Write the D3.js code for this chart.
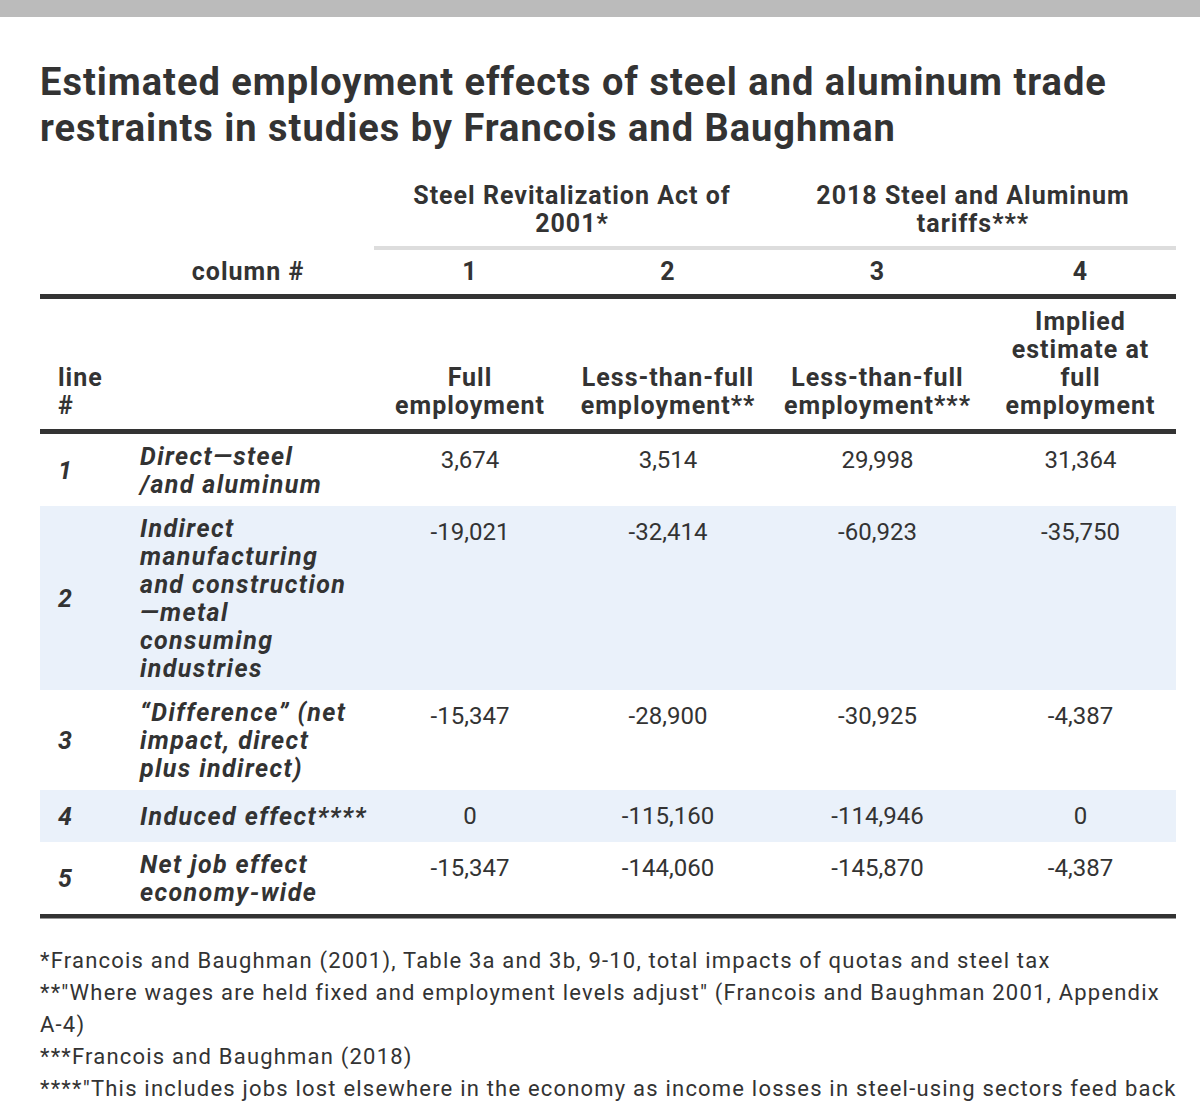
<!DOCTYPE html>
<html><head><meta charset="utf-8">
<script src="https://cdn.jsdelivr.net/npm/d3@7"></script>
<style>
html,body{margin:0;padding:0;background:#fff;}
svg{display:block;}
</style></head><body>
<svg id="chart" width="1200" height="1108"></svg>
<script>
// ---- data ----
const titleLines = ["Estimated employment effects of steel and aluminum trade",
                    "restraints in studies by Francois and Baughman"];
const groupHeaders = [["Steel Revitalization Act of", "2001*"],
                      ["2018 Steel and Aluminum", "tariffs***"]];
const columnNumbers = ["1", "2", "3", "4"];
const columnHeaders = [["Full", "employment"],
                       ["Less-than-full", "employment**"],
                       ["Less-than-full", "employment***"],
                       ["Implied", "estimate at", "full", "employment"]];
const lineNumbers = ["1", "2", "3", "4", "5"];
const rowLabels = [["Direct\u2014steel", "/and aluminum"],
                   ["Indirect", "manufacturing", "and construction", "\u2014metal", "consuming", "industries"],
                   ["\u201cDifference\u201d (net", "impact, direct", "plus indirect)"],
                   ["Induced effect****"],
                   ["Net job effect", "economy-wide"]];
const col1 = [3674, -19021, -15347, 0, -15347];
const col2 = [3514, -32414, -28900, -115160, -144060];
const col3 = [29998, -60923, -30925, -114946, -145870];
const col4 = [31364, -35750, -4387, 0, -4387];
const footnoteLines = [
  "*Francois and Baughman (2001), Table 3a and 3b, 9-10, total impacts of quotas and steel tax",
  "**\"Where wages are held fixed and employment levels adjust\" (Francois and Baughman 2001, Appendix",
  "A-4)",
  "***Francois and Baughman (2018)",
  "****\"This includes jobs lost elsewhere in the economy as income losses in steel-using sectors feed back"
];

// ---- layout ----
const FONT = "Roboto, 'Noto Sans', sans-serif";
const TXT = "#333333";
const W = 1200, H = 1108;
const left = 40, right = 1176;
const colEdges = [374, 566, 770, 985, 1176];
const colCenters = colEdges.slice(0, 4).map((e, i) => (e + colEdges[i + 1]) / 2);
const x = d3.scaleOrdinal().domain([0, 1, 2, 3]).range(colCenters);
const LH = 28;
const fmt = d3.formatLocale({decimal: ".", thousands: ",", grouping: [3], currency: ["$", ""], minus: "-"}).format(",");

const svg = d3.select("#chart");
svg.append("rect").attr("width", W).attr("height", H).attr("fill", "#fff");
svg.append("rect").attr("width", W).attr("height", 17).attr("fill", "#bbbbbb");

function multiline(g, lines, xpos, firstBaseline, lh, anchor) {
  const t = g.append("text").attr("text-anchor", anchor);
  t.selectAll("tspan").data(lines).join("tspan")
    .attr("x", xpos).attr("y", (d, i) => firstBaseline + i * lh).text(d => d);
  return t;
}

// title
const tg = svg.append("g").attr("font-family", FONT).attr("font-weight", 700)
  .attr("font-size", 38).attr("letter-spacing", 1.0).attr("fill", TXT);
multiline(tg, titleLines, left, 95, 46, "start");

// group headers
const hg = svg.append("g").attr("font-family", FONT).attr("font-weight", 700)
  .attr("font-size", 25).attr("letter-spacing", 1.0).attr("fill", TXT);
groupHeaders.forEach((lines, gi) => {
  const cx = (colEdges[gi * 2] + colEdges[gi * 2 + 2]) / 2;
  multiline(hg, lines, cx, 204, LH, "middle");
});
svg.append("rect").attr("x", colEdges[0]).attr("y", 246).attr("width", right - colEdges[0])
  .attr("height", 4).attr("fill", "#dddddd");

// column number row
hg.append("text").attr("x", 248).attr("y", 280).attr("text-anchor", "middle").text("column #");
hg.selectAll("text.colnum").data(columnNumbers).join("text").attr("class", "colnum")
  .attr("x", (d, i) => x(i)).attr("y", 280).attr("text-anchor", "middle").text(d => d);

svg.append("rect").attr("x", left).attr("y", 294).attr("width", right - left).attr("height", 5).attr("fill", TXT);

// column headers (bottom aligned)
const headBottomBaseline = 413.5;
multiline(hg, ["line", "#"], 58, headBottomBaseline - LH, LH, "start");
columnHeaders.forEach((lines, i) => {
  multiline(hg, lines, x(i), headBottomBaseline - (lines.length - 1) * LH, LH, "middle");
});

svg.append("rect").attr("x", left).attr("y", 429).attr("width", right - left).attr("height", 5).attr("fill", TXT);

// body rows
const rowHeights = rowLabels.map(l => Math.max(52, l.length * LH + 16));
const rowTops = [];
rowHeights.reduce((acc, h) => { rowTops.push(acc); return acc + h; }, 434);
const bodyBottom = rowTops[rowTops.length - 1] + rowHeights[rowHeights.length - 1];

const bg = svg.append("g");
bg.selectAll("rect").data(rowHeights).join("rect")
  .attr("x", left).attr("y", (d, i) => rowTops[i]).attr("width", right - left).attr("height", d => d)
  .attr("fill", (d, i) => i % 2 === 1 ? "#eaf1fa" : "#ffffff");

const lg = svg.append("g").attr("font-family", FONT).attr("font-weight", 700)
  .attr("font-style", "italic").attr("font-size", 25).attr("letter-spacing", 1.4).attr("fill", TXT);
lineNumbers.forEach((n, i) => {
  lg.append("text").attr("x", 58).attr("y", rowTops[i] + rowHeights[i] / 2 + 9).text(n);
});
rowLabels.forEach((lines, i) => {
  const first = rowTops[i] + (rowHeights[i] - lines.length * LH) / 2 + LH / 2 + 8.5;
  multiline(lg, lines, 140, first, LH, "start");
});

const cols = [col1, col2, col3, col4];
const ng = svg.append("g").attr("font-family", FONT).attr("font-weight", 400)
  .attr("font-size", 24).attr("fill", TXT).attr("text-anchor", "middle");
cols.forEach((vals, ci) => {
  ng.selectAll("text.c" + ci).data(vals).join("text").attr("class", "c" + ci)
    .attr("x", x(ci)).attr("y", (d, ri) => rowTops[ri] + 33.5).text(d => fmt(d));
});

svg.append("rect").attr("x", left).attr("y", bodyBottom).attr("width", right - left).attr("height", 4.5).attr("fill", TXT);

// footnotes
const fg = svg.append("g").attr("font-family", FONT).attr("font-weight", 400)
  .attr("font-size", 22).attr("letter-spacing", 1.2).attr("fill", TXT);
multiline(fg, footnoteLines, left, 968, 32, "start");
</script>
</body></html>
